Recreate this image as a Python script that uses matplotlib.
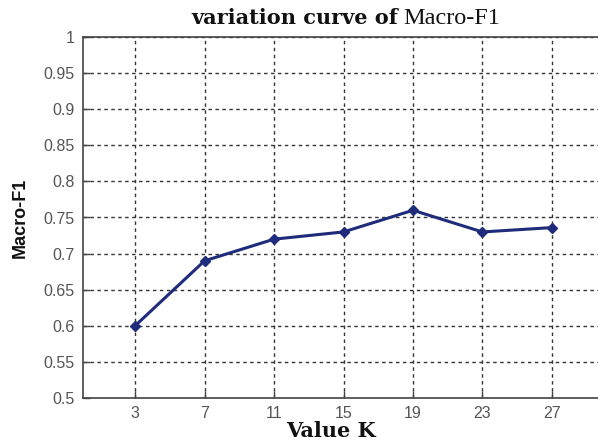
import matplotlib.pyplot as plt

k_values = [3, 7, 11, 15, 19, 23, 27]
macro_f1 = [0.60, 0.69, 0.72, 0.73, 0.76, 0.73, 0.736]
y_ticks = [0.5, 0.55, 0.6, 0.65, 0.7, 0.75, 0.8, 0.85, 0.9, 0.95, 1]
y_tick_labels = ["0.5", "0.55", "0.6", "0.65", "0.7", "0.75", "0.8", "0.85", "0.9", "0.95", "1"]


def main():
    fig = plt.figure(figsize=(5.98, 4.44), dpi=100)
    # axes runs a bit past the right edge, as in the cropped original
    ax = fig.add_axes([83 / 598, 46 / 444, 521 / 598, 361 / 444])

    ax.plot(k_values, macro_f1, color="#1f2b7b", linewidth=2.2,
            marker="D", markersize=5, markerfacecolor="#1f2b7b",
            markeredgecolor="#1f2b7b")

    ax.set_xlim(0, 30)
    ax.set_ylim(0.5, 1)
    ax.set_xticks(k_values)
    ax.set_yticks(y_ticks)
    ax.set_yticklabels(y_tick_labels)
    ax.tick_params(direction="in", length=5, width=1, colors="#444444",
                   labelsize=11.5, pad=6)
    for lab in ax.get_xticklabels() + ax.get_yticklabels():
        lab.set_family("Liberation Sans")
        lab.set_color("#555555")
    ax.grid(True, color="#333333", linestyle=(0, (2.5, 2.5)), linewidth=1)
    for side in ax.spines.values():
        side.set_color("#444444")
        side.set_linewidth(1.2)

    fig.text(398 / 598, 1 - 18 / 444, "variation curve of", ha="right",
             va="center", family="DejaVu Serif", fontweight="bold",
             fontsize=15, color="#111111")
    fig.text(403 / 598, 1 - 18 / 444, "Macro-F1", ha="left", va="center",
             family="Liberation Serif", fontsize=17.5, color="#111111")
    fig.text(20 / 598, 1 - 218 / 444, "Macro-F1", rotation=90, ha="center",
             va="center", family="Liberation Sans", fontweight="bold",
             fontsize=13, color="#111111")
    fig.text(331 / 598, 1 - 431 / 444, "Value K", ha="center", va="center",
             family="DejaVu Serif", fontweight="bold", fontsize=15,
             color="#111111")

    fig.savefig("out.png", dpi=100)


if __name__ == "__main__":
    main()
